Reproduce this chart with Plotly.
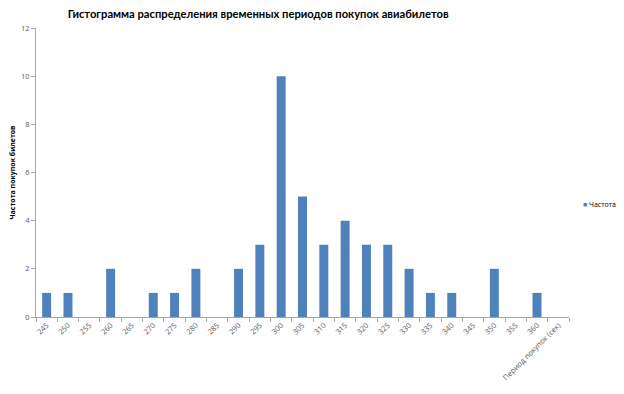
import plotly.graph_objects as go

categories = ["245", "250", "255", "260", "265", "270", "275", "280", "285", "290",
              "295", "300", "305", "310", "315", "320", "325", "330", "335", "340",
              "345", "350", "355", "360", "Период покупок (сек)"]
frequency = [1, 1, 0, 2, 0, 1, 1, 2, 0, 2,
             3, 10, 5, 3, 4, 3, 3, 2, 1, 1,
             0, 2, 0, 1, 0]
series_name = "Частота"
bar_color = "#4F81BD"

fig = go.Figure()
fig.add_trace(go.Bar(x=categories, y=frequency, name=series_name, showlegend=False,
                     marker=dict(color=bar_color, line=dict(width=0))))

title_font = "Lato, Open Sans, sans-serif"
font_family = "Open Sans, Liberation Sans, sans-serif"

# The page body has an 8px default margin, so the figure is 8px smaller
# and the margins are adjusted to keep the plot area at the reference position.
fig.update_layout(
    width=616, height=386,
    margin=dict(l=28, r=55, t=20, b=77, autoexpand=False),
    paper_bgcolor="white", plot_bgcolor="white",
    bargap=0.58,
    showlegend=False,
    title=dict(text="<b>Гистограмма распределения временных периодов покупок авиабилетов</b>",
               x=0.406, xanchor="center", y=0.994, yanchor="top",
               pad=dict(t=0, b=0, l=0, r=0),
               font=dict(family=title_font, size=11.2, color="#000000")),
    xaxis=dict(type="category", tickangle=-45, showline=True, linecolor="#A6A6A6",
               ticks="outside", ticklen=4, tickcolor="#A6A6A6", tickson="boundaries",
               showgrid=False, tickfont=dict(family=font_family, size=7.5, color="#595959")),
    yaxis=dict(range=[0, 12], dtick=2, showline=True, linecolor="#A6A6A6",
               ticks="outside", ticklen=4, tickcolor="#A6A6A6", showgrid=False,
               zeroline=False,
               tickfont=dict(family=font_family, size=7.5, color="#595959"),
               title=dict(text="<b>Частота покупок билетов</b>", standoff=10,
                          font=dict(family=font_family, size=7, color="#000000"))),
    annotations=[dict(
        text=f'<span style="color:{bar_color}">■</span> {series_name}',
        xref="paper", yref="paper", x=1.022, y=0.388,
        xanchor="left", yanchor="middle", showarrow=False,
        font=dict(family=font_family, size=7, color="#000000"))],
)

fig.write_html("out.html")
